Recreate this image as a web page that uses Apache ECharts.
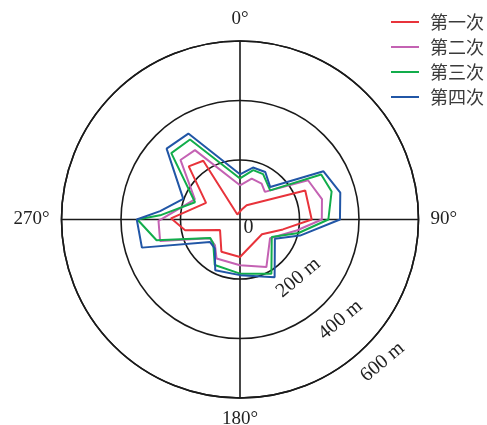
<!DOCTYPE html>
<html>
<head>
<meta charset="utf-8">
<script src="https://cdn.jsdelivr.net/npm/echarts@6/dist/echarts.min.js"></script>
<style>
  html, body { margin: 0; padding: 0; background: #fff; }
  #chart { width: 487px; height: 425px; }
</style>
</head>
<body>
<div id="chart"></div>
<script>
// Survey runs: each point is [bearing (deg, clockwise from north), distance (m)]
const seriesNames = ['第一次', '第二次', '第三次', '第四次'];
const seriesColors = ['#e8333b', '#c462b3', '#12ad4b', '#2156a6'];

const run1 = [[10, 34], [25, 53], [66, 240], [90, 241], [103, 148], [124, 89], [180, 126],
  [210, 125], [242, 76], [259, 188], [271, 232], [296, 127], [316, 248], [328, 233], [332, 19]];
const run2 = [[0, 115], [16, 143], [31, 141], [42, 125], [60, 264], [76, 284], [90, 275],
  [101, 194], [122, 119], [151, 183], [180, 154], [211, 153], [224, 121], [238, 119],
  [255, 278], [269, 274], [294, 166], [315, 283], [327, 278]];
const run3 = [[0, 138], [15, 172], [27, 171], [46, 141], [61, 312], [73, 322], [90, 297],
  [103, 202], [119, 122], [150, 211], [180, 182], [209, 175], [228, 121], [238, 118],
  [256, 289], [270, 345], [273, 269], [291, 162], [314, 321], [328, 317]];
const run4 = [[0, 152], [14, 180], [28, 181], [43, 149], [60, 324], [75, 349], [90, 336],
  [105, 209], [119, 134], [149, 226], [180, 187], [206, 190], [221, 129], [233, 126],
  [254, 343], [270, 347], [276, 270], [290, 203], [314, 343], [329, 337]];
const runs = [run1, run2, run3, run4];

// Axis ticks
const angleTicks = [0, 90, 180, 270];
const radiusTicks = [0, 200, 400, 600];
const radiusLabels = ['0', '200 m', '400 m', '600 m'];
const radiusLabelBearing = 135;

const serif = '"Liberation Serif", "Times New Roman", serif';
const cjk = '"Noto Sans CJK SC", sans-serif';
const ink = '#1a1a1a';

// Polar line data is [radius, angle]; close each outline back to its first point
function closedOutline(run) {
  const pts = run.map(([a, r]) => [r, a]);
  pts.push(pts[0]);
  return pts;
}

const chart = echarts.init(document.getElementById('chart'), null, { renderer: 'canvas' });

chart.setOption({
  animation: false,
  legend: {
    orient: 'vertical',
    left: 391,
    top: 13,
    padding: 0,
    itemWidth: 28,
    itemHeight: 2,
    itemGap: 7,
    icon: 'rect',
    data: seriesNames,
    textStyle: { fontFamily: cjk, fontSize: 18, color: '#3a3a3a', padding: [0, 0, 0, 6] }
  },
  polar: { center: [240, 219.5], radius: 178.5 },
  angleAxis: {
    type: 'value',
    min: 0,
    max: 360,
    interval: 90,
    startAngle: 90,
    clockwise: true,
    axisLine: { show: true, lineStyle: { color: ink, width: 1.6 } },
    axisTick: { show: false },
    splitLine: { show: true, lineStyle: { color: ink, width: 1.6 } },
    axisLabel: {
      margin: 12,
      fontFamily: serif,
      fontSize: 19,
      color: '#222',
      formatter: v => angleTicks.includes(v) ? v + '°' : ''
    }
  },
  radiusAxis: {
    type: 'value',
    min: radiusTicks[0],
    max: radiusTicks[radiusTicks.length - 1],
    interval: 200,
    axisLine: { show: false },
    axisTick: { show: false },
    axisLabel: { show: false },
    splitLine: { show: true, lineStyle: { color: ink, width: 1.6 } }
  },
  series: runs.map((run, i) => ({
    name: seriesNames[i],
    type: 'line',
    coordinateSystem: 'polar',
    data: closedOutline(run),
    showSymbol: false,
    symbol: 'none',
    smooth: false,
    color: seriesColors[i],
    lineStyle: { color: seriesColors[i], width: 2 },
    z: 3 + i
  }))
});

// Distance labels laid out along the lower-right bearing, just outside each ring
const origin = chart.convertToPixel({ seriesIndex: 0 }, [0, radiusLabelBearing]);
const far = chart.convertToPixel({ seriesIndex: 0 }, [radiusTicks[radiusTicks.length - 1], radiusLabelBearing]);
const len = Math.hypot(far[0] - origin[0], far[1] - origin[1]);
const ux = (far[0] - origin[0]) / len, uy = (far[1] - origin[1]) / len;

const labelGraphics = radiusTicks.map((v, i) => {
  const p = chart.convertToPixel({ seriesIndex: 0 }, [v, radiusLabelBearing]);
  const gap = v === 0 ? 12 : 23;
  return {
    type: 'text',
    x: p[0] + ux * gap,
    y: p[1] + uy * gap,
    rotation: v === 0 ? 0 : 40 * Math.PI / 180,
    z: 10,
    style: {
      text: radiusLabels[i],
      font: '20px ' + serif,
      fill: '#222',
      align: 'center',
      verticalAlign: 'middle',
      textAlign: 'center',
      textVerticalAlign: 'middle'
    }
  };
});

chart.setOption({ graphic: labelGraphics });
</script>
</body>
</html>
